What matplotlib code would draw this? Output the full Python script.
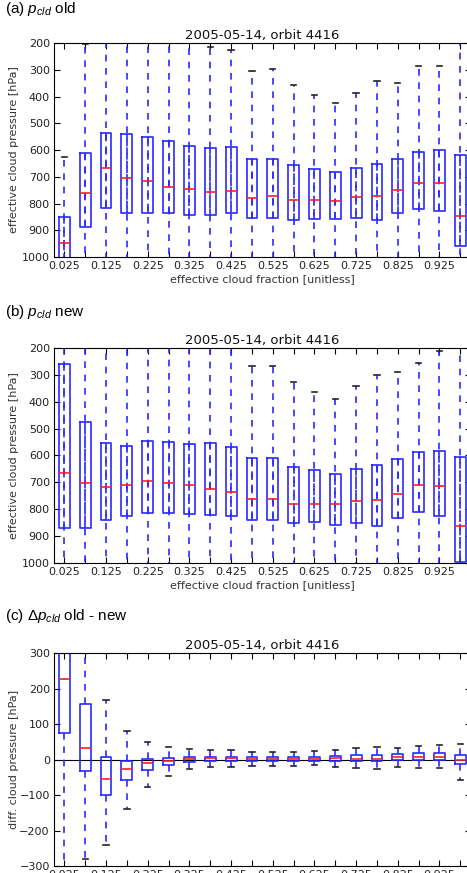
import matplotlib
matplotlib.use("Agg")
import matplotlib.pyplot as plt

plt.rcParams['mathtext.fontset'] = 'custom'
plt.rcParams['mathtext.it'] = 'Liberation Sans:italic'
plt.rcParams['mathtext.rm'] = 'Liberation Sans'

# box centres (effective cloud fraction bins)
positions = [0.025 + 0.05 * i for i in range(20)]
tick_labels = ['0.025', '', '0.125', '', '0.225', '', '0.325', '', '0.425', '',
               '0.525', '', '0.625', '', '0.725', '', '0.825', '', '0.925', '']

# (a) old cloud pressure [hPa]
old_q1 = [851, 610, 535, 539, 550, 568, 586, 591, 590, 632,
          632, 656, 672, 684, 667, 652, 632, 606, 601, 619]
old_med = [947, 760, 666, 704, 714, 739, 745, 757, 753, 781,
           773, 788, 788, 790, 776, 771, 750, 723, 724, 845]
old_q3 = [1010, 889, 817, 837, 837, 837, 842, 842, 837, 853,
          856, 862, 858, 858, 856, 863, 836, 820, 827, 960]
old_whis_top = [627, 202, 150, 150, 150, 150, 150, 215, 225, 303,
                298, 357, 396, 426, 385, 343, 349, 287, 287, 150]
old_whis_bot = [1100] * 20

# (b) new cloud pressure [hPa]
new_q1 = [258, 474, 552, 564, 546, 550, 559, 554, 567, 611,
          611, 643, 655, 668, 649, 637, 612, 586, 582, 604]
new_med = [665, 702, 719, 709, 695, 704, 710, 726, 735, 763,
           762, 779, 779, 779, 768, 765, 742, 711, 715, 864]
new_q3 = [871, 871, 840, 827, 814, 815, 819, 823, 825, 840,
          841, 853, 849, 858, 853, 861, 834, 812, 827, 997]
new_whis_top = [150, 150, 150, 150, 150, 150, 150, 150, 150, 268,
                268, 327, 365, 390, 343, 299, 288, 257, 212, 150]
new_whis_bot = [1100] * 20

# (c) old - new [hPa]
diff_q1 = [75, -32, -100, -57, -30, -16, -8, -5, -4, -5,
           -5, -5, -4, -4, -4, -4, -1, -1, 0, -14]
diff_med = [227, 32, -54, -28, -10, -3, 2, 3, 4, 1,
            1, 1, 2, 3, 2, 2, 7, 8, 8, -1]
diff_q3 = [320, 156, 6, -3, 1, 4, 8, 7, 8, 7,
           7, 7, 8, 10, 12, 14, 15, 18, 18, 13]
diff_whis_top = [350, 350, 167, 79, 49, 36, 30, 26, 27, 21,
                 21, 21, 24, 27, 33, 34, 33, 38, 42, 45]
diff_whis_bot = [-350, -279, -240, -138, -77, -47, -28, -22, -22, -19,
                 -19, -19, -16, -21, -24, -27, -22, -25, -25, -58]


def make_stats(q1, med, q3, lo, hi):
    stats = []
    for i in range(len(med)):
        stats.append({'med': med[i], 'q1': min(q1[i], q3[i]), 'q3': max(q1[i], q3[i]),
                      'whislo': lo[i], 'whishi': hi[i], 'fliers': []})
    return stats


def draw_panel(ax, stats, ylabel):
    ax.bxp(stats, positions=positions, widths=0.026, manage_ticks=False,
           boxprops=dict(color='#2a2aff', linewidth=1.2),
           whiskerprops=dict(color='#2a2aff', linewidth=1.2, linestyle=(0, (4, 4))),
           capprops=dict(color='#222222', linewidth=1.2),
           medianprops=dict(color='#ff2020', linewidth=1.2))
    ax.set_xlim(0, 1)
    ax.set_xticks(positions)
    ax.set_xticklabels(tick_labels)
    ax.tick_params(direction='in', top=True, right=True, length=4, labelsize=8, pad=3,
                   labelcolor='#222222')
    ax.set_title('2005-05-14, orbit 4416', fontsize=9.5, pad=3, color='#111111')
    ax.set_ylabel(ylabel, fontsize=8, color='#333333')
    ax.yaxis.set_label_coords(-0.083, 0.5)


fig = plt.figure(figsize=(4.67, 8.73), dpi=100)
left, width = 0.1156, 0.8923

ax1 = fig.add_axes([left, 0.7056, width, 0.2451])
draw_panel(ax1, make_stats(old_q1, old_med, old_q3, old_whis_bot, old_whis_top),
           'effective cloud pressure [hPa]')
ax1.set_ylim(1000, 200)
ax1.set_xlabel('effective cloud fraction [unitless]', fontsize=8, color='#333333', labelpad=2)

ax2 = fig.add_axes([left, 0.3551, width, 0.2463])
draw_panel(ax2, make_stats(new_q1, new_med, new_q3, new_whis_bot, new_whis_top),
           'effective cloud pressure [hPa]')
ax2.set_ylim(1000, 200)
ax2.set_xlabel('effective cloud fraction [unitless]', fontsize=8, color='#333333', labelpad=2)

ax3 = fig.add_axes([left, 0.0080, width, 0.2440])
draw_panel(ax3, make_stats(diff_q1, diff_med, diff_q3, diff_whis_bot, diff_whis_top),
           'diff. cloud pressure [hPa]')
ax3.axhline(0, color='k', linewidth=0.8, zorder=0)
ax3.set_ylim(-300, 300)
ax3.set_yticks([-300, -200, -100, 0, 100, 200, 300])

lbl = dict(fontsize=11, family='Liberation Sans', va='center', ha='left')
fig.text(0.01, 1 - 9 / 873, '(a) $p_{cld}$ old', **lbl)
fig.text(0.01, 1 - 312 / 873, '(b) $p_{cld}$ new', **lbl)
fig.text(0.01, 1 - 616 / 873, '(c) \u0394$p_{cld}$ old - new', **lbl)

fig.savefig('out.png', dpi=100)
